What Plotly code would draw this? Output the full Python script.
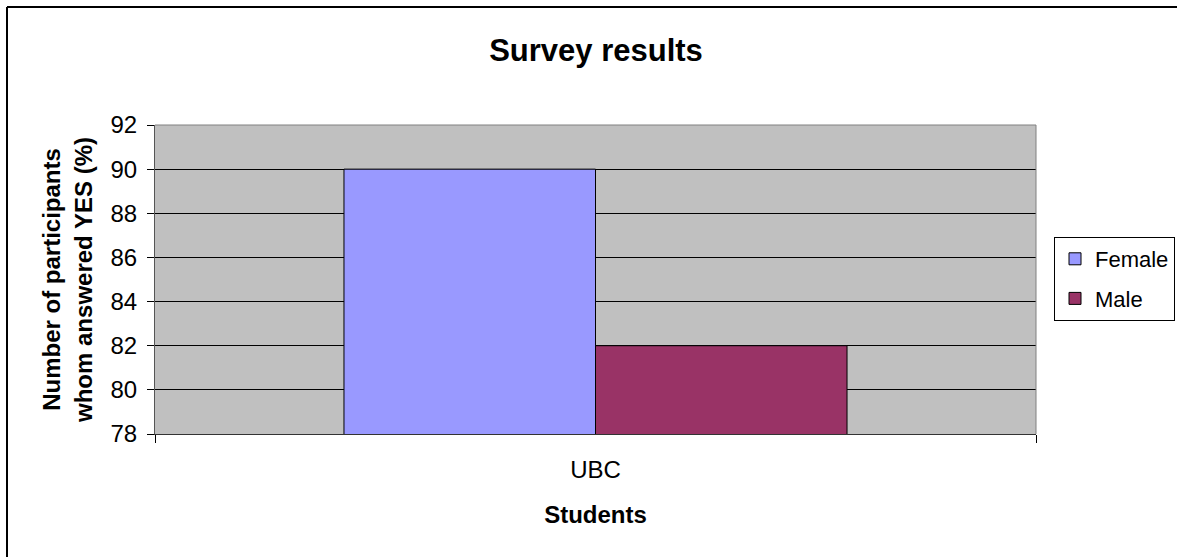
import plotly.graph_objects as go

categories = ["UBC"]
female = [90]
male = [82]
series_names = ["Female", "Male"]
y_ticks = [78, 80, 82, 84, 86, 88, 90, 92]

W, H = 1177, 557
L, R, T, B = 155, 141, 125, 123
pw, ph = W - L - R, H - T - B

def px(x):
    return (x - L) / pw

def py(y):
    return (H - B - y) / ph

fig = go.Figure()
fig.add_trace(go.Bar(x=categories, y=female, name=series_names[0], legendgroup="f",
                     marker=dict(color="#9999FF", line=dict(color="black", width=1))))
fig.add_trace(go.Bar(x=categories, y=male, name=series_names[1], legendgroup="m",
                     marker=dict(color="#993366", line=dict(color="black", width=1))))

font = "Liberation Sans, Arial, sans-serif"
fig.update_layout(
    width=W, height=H,
    margin=dict(l=L, r=R, t=T, b=B, autoexpand=False),
    paper_bgcolor="white",
    plot_bgcolor="#C0C0C0",
    barmode="group",
    bargap=0.429,
    bargroupgap=0,
    font=dict(family=font, size=24, color="black"),
    title=dict(text="<b>Survey results</b>", x=px(596), xref="paper", xanchor="center",
               y=1 - 50 / H, yanchor="middle", font=dict(size=31, family=font)),
    legend=dict(x=px(1054), y=py(279), xanchor="left", yanchor="middle",
                bordercolor="black", borderwidth=1, bgcolor="white",
                font=dict(size=22, family=font), itemwidth=30,
                entrywidth=70, tracegroupgap=8),
    showlegend=True,
)
fig.update_yaxes(range=[78, 92], tickvals=y_ticks, ticks="outside", ticklen=7,
                 tickcolor="black", showgrid=True, gridcolor="black", gridwidth=1,
                 showline=True, linecolor="#555555", linewidth=1, mirror=False,
                 zeroline=False, tickfont=dict(size=24), ticklabelstandoff=5,
                 title=dict(text="<b>Number of participants<br>whom answered YES (%)</b>",
                            font=dict(size=24), standoff=11))
fig.update_xaxes(ticks="outside", tickson="boundaries", ticklen=8, tickcolor="black",
                 showline=True, linecolor="#333333", linewidth=1,
                 tickfont=dict(size=24), ticklabelstandoff=14,
                 title=dict(text="<b>Students</b>", font=dict(size=24), standoff=24))

# plot area outline (top and right edges)
fig.add_shape(type="line", xref="paper", yref="paper", x0=0, x1=1, y0=1, y1=1,
              line=dict(color="#808080", width=1))
fig.add_shape(type="line", xref="paper", yref="paper", x0=1, x1=1, y0=0, y1=1,
              line=dict(color="#808080", width=1))
# chart frame (top and left edges)
fig.add_shape(type="line", xref="paper", yref="paper", x0=px(7), x1=px(1200), y0=py(7), y1=py(7),
              line=dict(color="black", width=2))
fig.add_shape(type="line", xref="paper", yref="paper", x0=px(7), x1=px(7), y0=py(7), y1=py(600),
              line=dict(color="black", width=2))

fig.write_html("out.html")
